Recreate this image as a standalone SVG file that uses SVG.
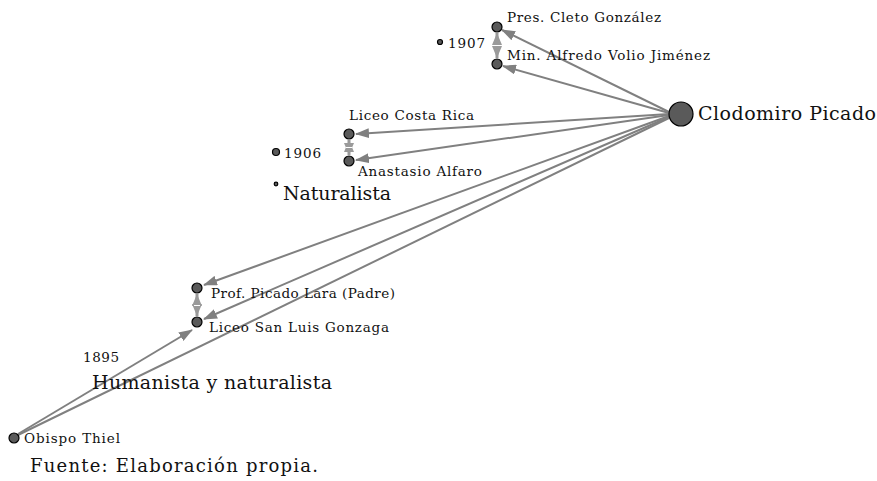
<svg xmlns="http://www.w3.org/2000/svg" width="877" height="481" viewBox="0 0 877 481">
<style>
.n{fill:#5a5a5a;stroke:#000;stroke-width:1.2}
.e{stroke:#808080;stroke-width:2;fill:none}
.p{stroke:#9a9a9a;stroke-width:3;fill:none}
.t{font-family:"DejaVu Serif",serif;fill:#111}
.s{font-size:13.5px}
.b{font-size:19px}
</style>
<defs>
<marker id="a" markerWidth="14" markerHeight="10" refX="13" refY="5" orient="auto" markerUnits="userSpaceOnUse">
<path d="M0,0 L14,5 L0,10 Z" fill="#808080"/>
</marker>
<marker id="a2" markerWidth="12" markerHeight="10" refX="12" refY="5" orient="auto" markerUnits="userSpaceOnUse">
<path d="M0,0 L12,5 L0,10 Z" fill="#9a9a9a"/>
</marker>
</defs>
<rect width="877" height="481" fill="#fff"/>
<g id="connectors">
<line class="e" x1="669" y1="112" x2="502" y2="30" marker-end="url(#a)"/>
<line class="e" x1="669" y1="113" x2="503" y2="66" marker-end="url(#a)"/>
<line class="e" x1="669" y1="114" x2="356" y2="134" marker-end="url(#a)"/>
<line class="e" x1="669" y1="115" x2="356" y2="160" marker-end="url(#a)"/>
<line class="e" x1="669" y1="116" x2="204" y2="285" marker-end="url(#a)"/>
<line class="e" x1="669" y1="117" x2="204" y2="319" marker-end="url(#a)"/>
<line class="e" x1="18" y1="435" x2="669" y2="118"/>
<line class="e" x1="18" y1="434" x2="192" y2="330" marker-end="url(#a)"/>
<line class="p" x1="497" y1="45" x2="497" y2="33" marker-end="url(#a2)"/>
<line class="p" x1="497" y1="46" x2="497" y2="58" marker-end="url(#a2)"/>
<line x1="494" y1="45.5" x2="500" y2="45.5" stroke="#fff" stroke-width="1"/>
<line class="p" x1="349" y1="147" x2="349" y2="140" marker-end="url(#a2)"/>
<line class="p" x1="349" y1="148" x2="349" y2="155" marker-end="url(#a2)"/>
<line x1="346" y1="147.5" x2="352" y2="147.5" stroke="#fff" stroke-width="1"/>
<line class="p" x1="197" y1="305" x2="197" y2="294" marker-end="url(#a2)"/>
<line class="p" x1="197" y1="306" x2="197" y2="316" marker-end="url(#a2)"/>
<line x1="194" y1="305.5" x2="200" y2="305.5" stroke="#fff" stroke-width="1"/>
</g>
<g id="clodomiro"><circle class="n" cx="681" cy="114" r="12"/><text class="t b" x="698" y="120" textLength="178">Clodomiro Picado</text></g>
<g id="cleto"><circle class="n" cx="497" cy="27" r="5"/><text class="t s" x="507" y="22" textLength="154">Pres. Cleto González</text></g>
<g id="volio"><circle class="n" cx="497" cy="64" r="5"/><text class="t s" x="507" y="60" textLength="203">Min. Alfredo Volio Jiménez</text></g>
<g id="y1907"><circle class="n" cx="440" cy="42" r="2.5"/><text class="t s" x="448" y="48" textLength="37">1907</text></g>
<g id="costarica"><circle class="n" cx="349" cy="134" r="5"/><text class="t s" x="349" y="120" textLength="125">Liceo Costa Rica</text></g>
<g id="alfaro"><circle class="n" cx="349" cy="161" r="5"/><text class="t s" x="358" y="176" textLength="124">Anastasio Alfaro</text></g>
<g id="y1906"><circle class="n" cx="276" cy="152" r="3.5"/><text class="t s" x="284" y="158" textLength="37">1906</text></g>
<g id="naturalista"><circle class="n" cx="276" cy="184" r="1.8"/><text class="t b" x="283" y="200" textLength="108">Naturalista</text></g>
<g id="picadolara"><circle class="n" cx="197" cy="288" r="5"/><text class="t s" x="211" y="298" textLength="184">Prof. Picado Lara (Padre)</text></g>
<g id="sanluis"><circle class="n" cx="197" cy="322" r="5"/><text class="t s" x="209" y="332" textLength="180">Liceo San Luis Gonzaga</text></g>
<g id="y1895"><text class="t s" x="83" y="362" textLength="36">1895</text><text class="t b" x="92" y="389" textLength="240">Humanista y naturalista</text></g>
<g id="thiel"><circle class="n" cx="14" cy="438" r="5"/><text class="t s" x="24" y="443" textLength="96">Obispo Thiel</text></g>
<text class="t" x="30" y="472" font-size="18" textLength="288">Fuente: Elaboración propia.</text>
</svg>
